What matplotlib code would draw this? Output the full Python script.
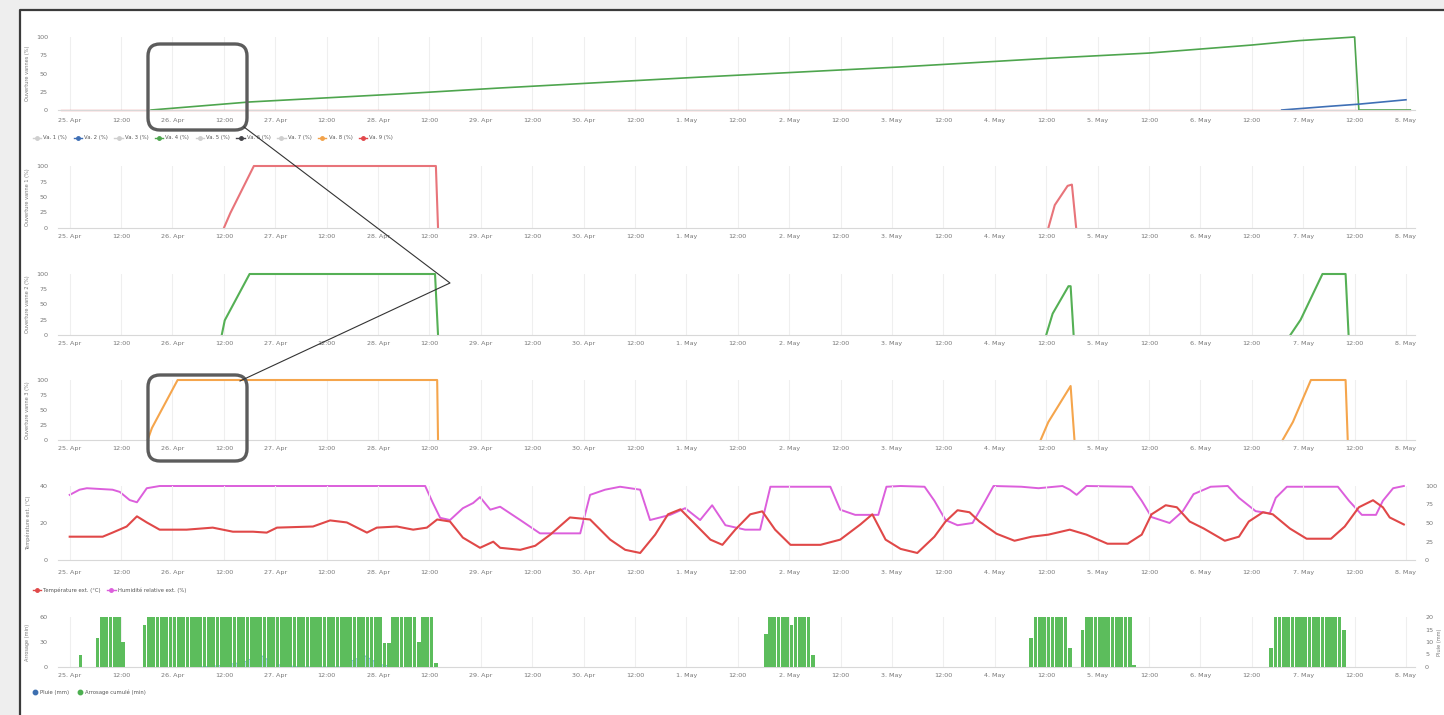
import matplotlib.pyplot as plt
import numpy as np
from matplotlib.lines import Line2D
from matplotlib.patches import FancyBboxPatch, Rectangle

W, H = 1444, 715
nan = np.nan

# time axis: hours since 25 Apr 00:00, tick every 12 h
hour_ticks = np.arange(0, 313, 12)
day_names = ['25. Apr', '26. Apr', '27. Apr', '28. Apr', '29. Apr', '30. Apr', '1. May',
             '2. May', '3. May', '4. May', '5. May', '6. May', '7. May', '8. May']

# panel 1 - valves summary
va_names = ['Va. 1 (%)', 'Va. 2 (%)', 'Va. 3 (%)', 'Va. 4 (%)', 'Va. 5 (%)',
            'Va. 6 (%)', 'Va. 7 (%)', 'Va. 8 (%)', 'Va. 9 (%)']
va_colors = ['#cfcfcf', '#3f6fb5', '#cfcfcf', '#4ea54e', '#cfcfcf',
             '#434348', '#cfcfcf', '#f2a24a', '#e2474b']
green_t = [19, 42, 77, 100, 147, 194, 229, 252, 276, 287, 300, 301, 313]
green_v = [0, 11, 22, 30, 45, 59, 71, 78, 89, 95, 100, 0, 0]
blue_t = [283, 294, 301, 312]
blue_v = [0, 5, 8, 14]
red_t = [-2, 313]
red_v = [0, 0]

# panels 2-4 - single valves
v1_t = [36, 37.5, 43, 85.5, 86, nan, 228.5, 230, 233, 234, 235]
v1_v = [0, 24, 100, 100, 0, nan, 0, 37, 68, 70, 0]
v2_t = [35.5, 36.2, 42, 85.3, 86, nan, 228, 229.5, 233.2, 233.7, 234.4, nan,
        285, 287.4, 292.5, 297.9, 298.6]
v2_v = [0, 24, 100, 100, 0, nan, 0, 35, 80, 80, 0, nan, 0, 25, 100, 100, 0]
v3_t = [18.2, 19.2, 25.2, 85.8, 86, nan, 226.7, 228.5, 233.7, 234.6, nan,
        283.2, 285.6, 289.8, 297.9, 298.4]
v3_v = [0, 20, 100, 100, 0, nan, 0, 30, 90, 0, nan, 0, 30, 100, 100, 0]

# panel 5 - outside temperature (degC) and relative humidity (%)
temp_t = [0, 7.7, 10, 13.3, 15.7, 18, 21, 27.3, 33.4, 38.1, 42.8, 46, 48.4, 56.8, 60.8,
          64.7, 69.4, 71.7, 76.4, 80.2, 83.4, 85.8, 88.8, 91.8, 95.8, 98.9, 100.5,
          105.2, 108.7, 112.2, 116.8, 121.5, 126.2, 129.7, 133.2, 136.7, 139.7, 142.6,
          146.1, 149.6, 152.4, 155.4, 158.9, 161.7, 164.7, 168.3, 175.3, 179.9, 184.6,
          187.4, 190.5, 194, 197.9, 201.9, 204.5, 207.3, 210.1, 212.4, 216.4, 220.6,
          224.6, 228.5, 233.5, 237.4, 242.3, 247, 250.3, 252.6, 255.9, 258.5, 261.5,
          264.8, 269.7, 273, 275.3, 278.6, 280.9, 284.9, 288.8, 294.5, 297.7, 301,
          304.3, 306.6, 308.2, 311.5]
temp_v = [12.6, 12.6, 14.8, 18.1, 23.6, 20.3, 16.4, 16.4, 17.5, 15.3, 15.3, 14.8, 17.5,
          18.1, 21.4, 20.3, 14.8, 17.5, 18.1, 16.4, 17.5, 21.9, 20.8, 12.1, 6.6, 9.9, 6.6,
          5.5, 7.7, 13.7, 23, 21.9, 11, 5.5, 3.8, 13.7, 24.7, 27.4, 19.2, 11, 8.2, 16.4,
          24.7, 26.3, 16.4, 8.2, 8.2, 11, 19.2, 24.7, 11, 6, 3.8, 12.6, 20.8, 26.9, 25.8,
          20.8, 14.2, 10.4, 12.6, 13.7, 16.4, 13.7, 8.8, 8.8, 13.7, 24.7, 29.6, 28.5, 20.8,
          17, 10.4, 12.6, 20.8, 25.8, 24.7, 17, 11.5, 11.5, 18.1, 28.5, 32.3, 28.5, 23, 19.2]
hum_t = [0, 2.3, 4, 10, 11.7, 14, 15.7, 18, 21, 83, 84.8, 86.5, 88.8, 91.8, 94.2, 95.8,
         98.2, 100.5, 105.2, 109.8, 119.2, 121.5, 125, 128.5, 133.2, 135.5, 140.2, 143.7,
         147.2, 150, 153.1, 157.7, 161.2, 163.6, 177.6, 179.9, 183.4, 188.8, 190.7, 194,
         199.6, 201.9, 204.5, 207.3, 210.8, 213.4, 215.7, 222.2, 226.2, 231.8, 233.5,
         235.1, 237.4, 248, 250.3, 252.6, 256.8, 259.9, 262.4, 266.4, 270.4, 273, 276.9,
         280.2, 281.6, 284.2, 296.1, 298.7, 301.7, 305, 306.6, 309, 311.5]
hum_v = [88, 95, 97, 95, 92, 81, 78, 97, 100, 100, 77, 57, 54, 70, 77, 85, 68, 72, 54, 36,
         36, 88, 95, 99, 95, 54, 61, 70, 54, 74, 47, 41, 41, 99, 99, 68, 61, 61, 99, 100,
         99, 80, 54, 47, 50, 76, 100, 99, 97, 100, 95, 88, 100, 99, 80, 58, 50, 66, 89, 99,
         100, 84, 66, 63, 84, 99, 99, 80, 61, 61, 80, 97, 100]

# panel 6 - watering per hour (min), runs of equal hourly values, and rain (mm)
water_start = [2, 6, 7, 12, 17, 18, 73, 75, 81, 82, 85, 162, 163, 168, 169, 173,
               224, 225, 233, 236, 237, 248, 280, 281, 297]
water_end = [2, 6, 11, 12, 17, 72, 74, 80, 81, 84, 85, 162, 167, 168, 172, 173,
             224, 232, 233, 236, 247, 248, 280, 296, 297]
water_val = [15, 35, 60, 30, 50, 60, 29, 60, 30, 60, 5, 40, 60, 50, 60, 15,
             35, 60, 23, 45, 60, 2, 23, 60, 44]
rain_t = [30.4, 35.1, 40.9, 44.4, 47.9, 53.7, 63.1, 66.6, 68.9, 72.4, 76]
rain_v = [0, 0.5, 2, 5, 1, 0, 0, 3, 4.5, 1, 0]

fig = plt.figure(figsize=(W / 100, H / 100), dpi=100)
fig.patch.set_facecolor('#eeeeee')

bg = fig.add_axes([0, 0, 1, 1], zorder=-10)
bg.set_xlim(0, W)
bg.set_ylim(H, 0)
bg.axis('off')
bg.add_patch(Rectangle((20, 10), W - 20, H - 10, fc='white', ec='none'))
bg.plot([20, 20, W], [H, 10, 10], color='#3a3a3a', lw=1.6)

LEFT, RIGHT = 57.7, 1415.4
TXT = '#777777'


def add_panel(top, bottom, ymax, yticks, pad_x):
    ax = fig.add_axes([LEFT / W, 1 - bottom / H, (RIGHT - LEFT) / W, (bottom - top) / H])
    ax.set_facecolor('none')
    ax.set_xlim(-2.8, 314.2)
    ax.set_ylim(0, ymax)
    ax.set_xticks(hour_ticks)
    ax.set_xticklabels([day_names[i // 2] if i % 2 == 0 else '12:00'
                        for i in range(len(hour_ticks))])
    ax.set_yticks(yticks)
    ax.tick_params(axis='x', length=0, pad=pad_x, labelsize=4.6, colors=TXT)
    ax.tick_params(axis='y', length=0, pad=7, labelsize=4.6, colors=TXT)
    for s in ['top', 'right', 'left']:
        ax.spines[s].set_visible(False)
    ax.spines['bottom'].set_color('#d8d8d8')
    ax.spines['bottom'].set_linewidth(0.8)
    ax.grid(axis='x', color='#efefef', lw=0.8)
    ax.set_axisbelow(True)
    return ax


def ylabel(top, bottom, text, x=28):
    fig.text(x / W, 1 - (top + bottom) / 2 / H, text, rotation=90, ha='center',
             va='center', fontsize=3.6, color=TXT)


# panel 1
ax1 = add_panel(37, 110, 100, [0, 25, 50, 75, 100], 5.5)
ax1.plot(red_t, red_v, color=va_colors[8], lw=1.0, alpha=0.6, clip_on=False)
ax1.plot(green_t, green_v, color=va_colors[3], lw=1.2, clip_on=False)
ax1.plot(blue_t, blue_v, color=va_colors[1], lw=1.2, clip_on=False)
ylabel(37, 110, 'Ouverture vannes (%)')
handles = [Line2D([], [], color=c, lw=1, marker='o', ms=2.5) for c in va_colors]
fig.legend(handles, va_names, loc='center left', bbox_to_anchor=(28 / W, 1 - 138 / H),
           ncol=9, frameon=False, fontsize=3.8, handlelength=1.6, handletextpad=0.4,
           columnspacing=1.2, labelcolor='#555555')

# panels 2-4
for top, bottom, t, v, c, name in [(166, 228, v1_t, v1_v, '#e8747a', 'Ouverture vanne 1 (%)'),
                                    (274, 335, v2_t, v2_v, '#55b055', 'Ouverture vanne 2 (%)'),
                                    (380, 440, v3_t, v3_v, '#f5a54c', 'Ouverture vanne 3 (%)')]:
    ax = add_panel(top, bottom, 100, [0, 25, 50, 75, 100], 4.6)
    ax.plot(t, v, color=c, lw=1.5, clip_on=False)
    ylabel(top, bottom, name)

# panel 5
ax5 = add_panel(486, 560, 40, [0, 20, 40], 7)
ax5b = ax5.twinx()
ax5b.set_ylim(0, 100)
ax5b.set_yticks([0, 25, 50, 75, 100])
ax5b.tick_params(axis='y', length=0, pad=7, labelsize=4.6, colors=TXT)
for s in ax5b.spines.values():
    s.set_visible(False)
ax5b.plot(hum_t, hum_v, color='#dc5fdc', lw=1.4, clip_on=False)
ax5.plot(temp_t, temp_v, color='#e04848', lw=1.5, clip_on=False, zorder=5)
ax5.set_zorder(ax5b.get_zorder() + 1)
ylabel(486, 560, 'Température ext. (°C)')
fig.legend([Line2D([], [], color='#e04848', lw=1, marker='o', ms=2.5),
            Line2D([], [], color='#dc5fdc', lw=1, marker='o', ms=2.5)],
           ['Température ext. (°C)', 'Humidité relative ext. (%)'],
           loc='center left', bbox_to_anchor=(28 / W, 1 - 590 / H), ncol=2, frameon=False,
           fontsize=3.8, handlelength=1.6, handletextpad=0.4, columnspacing=1.2,
           labelcolor='#555555')

# panel 6
ax6 = add_panel(617, 667, 60, [0, 30, 60], 4.2)
ax6b = ax6.twinx()
ax6b.set_ylim(0, 20)
ax6b.set_yticks([0, 5, 10, 15, 20])
ax6b.tick_params(axis='y', length=0, pad=7, labelsize=4.6, colors=TXT)
for s in ax6b.spines.values():
    s.set_visible(False)
hours, mins = [], []
for a, b, v in zip(water_start, water_end, water_val):
    for hh in range(a, b + 1):
        hours.append(hh + 0.5)
        mins.append(v)
ax6.bar(hours, mins, width=0.86, color='#5cbd5c', edgecolor='none', zorder=3)
ax6b.fill_between(rain_t, rain_v, color='#a9cdf0', alpha=0.8, lw=0)
ax6b.plot(rain_t, rain_v, color='#7cb5ec', lw=0.8)
ax6.set_zorder(ax6b.get_zorder() + 1)
ylabel(617, 667, 'Arrosage (min)')
ylabel(617, 667, 'Pluie (mm)', x=1439)
fig.legend([Line2D([], [], color='#3d6fb0', lw=0, marker='o', ms=3.2),
            Line2D([], [], color='#4caf50', lw=0, marker='o', ms=3.2)],
           ['Pluie (mm)', 'Arrosage cumulé (min)'],
           loc='center left', bbox_to_anchor=(28 / W, 1 - 692 / H), ncol=2, frameon=False,
           fontsize=3.8, handlelength=1.0, handletextpad=0.4, columnspacing=1.5,
           labelcolor='#555555')

# zoom annotation overlay
ov = fig.add_axes([0, 0, 1, 1], zorder=20)
ov.set_xlim(0, W)
ov.set_ylim(H, 0)
ov.axis('off')
for x0, y0 in [(148, 44), (148, 375)]:
    ov.add_patch(FancyBboxPatch((x0 + 12, y0 + 12), 99 - 24, 86 - 24,
                                boxstyle='round,pad=12', fc='none', ec='#5c5c5c', lw=2.4))
ov.plot([244, 450, 240], [127, 283, 381], color='#333333', lw=0.8)

fig.savefig('out.png', dpi=100, facecolor=fig.get_facecolor())
